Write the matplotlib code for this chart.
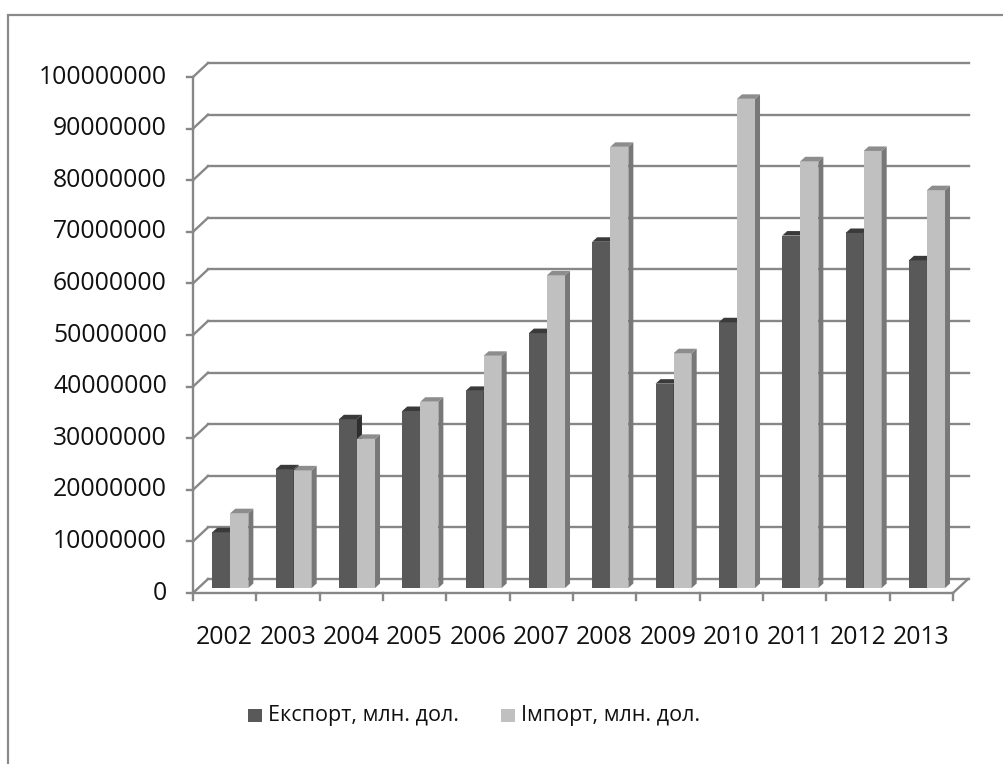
import matplotlib
matplotlib.use("Agg")
import matplotlib.pyplot as plt
from matplotlib.patches import Polygon, Rectangle
from matplotlib.lines import Line2D

years = ["2002", "2003", "2004", "2005", "2006", "2007", "2008", "2009", "2010", "2011", "2012", "2013"]
export_vals = [10.8e6, 23.0e6, 32.7e6, 34.3e6, 38.2e6, 49.4e6, 67.1e6, 39.6e6, 51.5e6, 68.3e6, 68.8e6, 63.5e6]
import_vals = [14.5e6, 22.8e6, 28.9e6, 36.1e6, 45.0e6, 60.6e6, 85.5e6, 45.5e6, 94.8e6, 82.7e6, 84.7e6, 77.1e6]
series_names = ["Експорт, млн. дол.", "Імпорт, млн. дол."]
yticks = list(range(0, 100000001, 10000000))

FONT = ["Open Sans", "DejaVu Sans"]

W, H = 1004, 764
fig = plt.figure(figsize=(W / 100, H / 100), dpi=100)
fig.patch.set_facecolor("white")

# front plane axes: x 0..12 -> px 193..953, y 0..100M -> px 593..77
x0, x1, y0, y1 = 193, 953, 593, 77
ax = fig.add_axes([x0 / W, 1 - y0 / H, (x1 - x0) / W, (y0 - y1) / H])
n = len(years)
ax.set_xlim(0, n)
ax.set_ylim(0, 100e6)
ax.axis("off")

pxx = (x1 - x0) / n          # px per category
pxy = (y0 - y1) / 100e6      # px per value unit

# wall depth offsets (data units)
DXW = 15 / pxx
DYW = 14 / pxy
# bar plane offsets
DXB = 5 / pxx
DYB = 5 / pxy
# bar depth
DDX = 5 / pxx
DDY = 4.5 / pxy

grid_c = "#878787"
lw = 1.7
txt_c = "#111111"

# back wall gridlines + left wall diagonals + ticks
for v in yticks:
    ax.add_line(Line2D([DXW, n + DXW + 0.02], [v + DYW, v + DYW], color=grid_c, lw=lw, clip_on=False, zorder=1))
    ax.add_line(Line2D([0, DXW], [v, v + DYW], color=grid_c, lw=lw, clip_on=False, zorder=1))
    ax.add_line(Line2D([-6 / pxx, 0], [v, v], color=grid_c, lw=lw, clip_on=False, zorder=1))
    ax.text(-26 / pxx, v, f"{v:d}", ha="right", va="center", fontsize=17.8,
            family=FONT, color=txt_c)

# left axis vertical
ax.add_line(Line2D([0, 0], [0 - 7 / pxy, 100e6], color=grid_c, lw=lw, clip_on=False, zorder=1))
# floor
ax.add_line(Line2D([0, n], [0, 0], color=grid_c, lw=lw, clip_on=False, zorder=1))
ax.add_line(Line2D([n, n + DXW], [0, DYW], color=grid_c, lw=lw, clip_on=False, zorder=1))
for i in range(1, n + 1):
    ax.add_line(Line2D([i, i], [0, -7 / pxy], color=grid_c, lw=lw, clip_on=False, zorder=1))

# bars
bw = 0.285
starts = [0.225, 0.225 + bw]
fronts = ["#595959", "#c0c0c0"]
sides = ["#2e2e2e", "#787878"]
tops = ["#3a3a3a", "#8d8d8d"]
z = 3
for i in range(n):
    for s, vals in enumerate([export_vals, import_vals]):
        v = vals[i]
        xl = i + DXB + starts[s]
        xr = xl + bw
        b = DYB
        t = DYB + v
        ax.bar(xl, v, width=bw, bottom=b, align="edge", color=fronts[s],
               edgecolor="none", zorder=z, clip_on=False)
        ax.add_patch(Polygon([(xr, b), (xr + DDX, b + DDY), (xr + DDX, t + DDY), (xr, t)],
                             closed=True, facecolor=sides[s], edgecolor="none", zorder=z, clip_on=False))
        ax.add_patch(Polygon([(xl, t), (xl + DDX, t + DDY), (xr + DDX, t + DDY), (xr, t)],
                             closed=True, facecolor=tops[s], edgecolor="none", zorder=z, clip_on=False))
        z += 1

# x labels
for i, yl in enumerate(years):
    ax.text(i + 0.5, -45 / pxy, yl, ha="center", va="center", fontsize=17.8,
            family=FONT, color=txt_c)

# legend
leg_y = 1 - 716 / H
for s, (name, xs) in enumerate(zip(series_names, [248, 501])):
    fig.patches.append(Rectangle((xs / W, 1 - 722 / H), 14 / W, 13 / H, transform=fig.transFigure,
                                 facecolor=fronts[s], edgecolor="none"))
    fig.text((xs + 20) / W, leg_y, name, ha="left", va="center", fontsize=15.5,
             family=FONT, color=txt_c)

# chart frame (cut off at right and bottom)
fig.patches.append(Rectangle((8 / W, -0.05), 1.1, 1 - 15 / H + 0.05, transform=fig.transFigure,
                             facecolor="none", edgecolor="#8a8a8a", lw=1.6))

fig.savefig("out.png", dpi=100, facecolor="white")
